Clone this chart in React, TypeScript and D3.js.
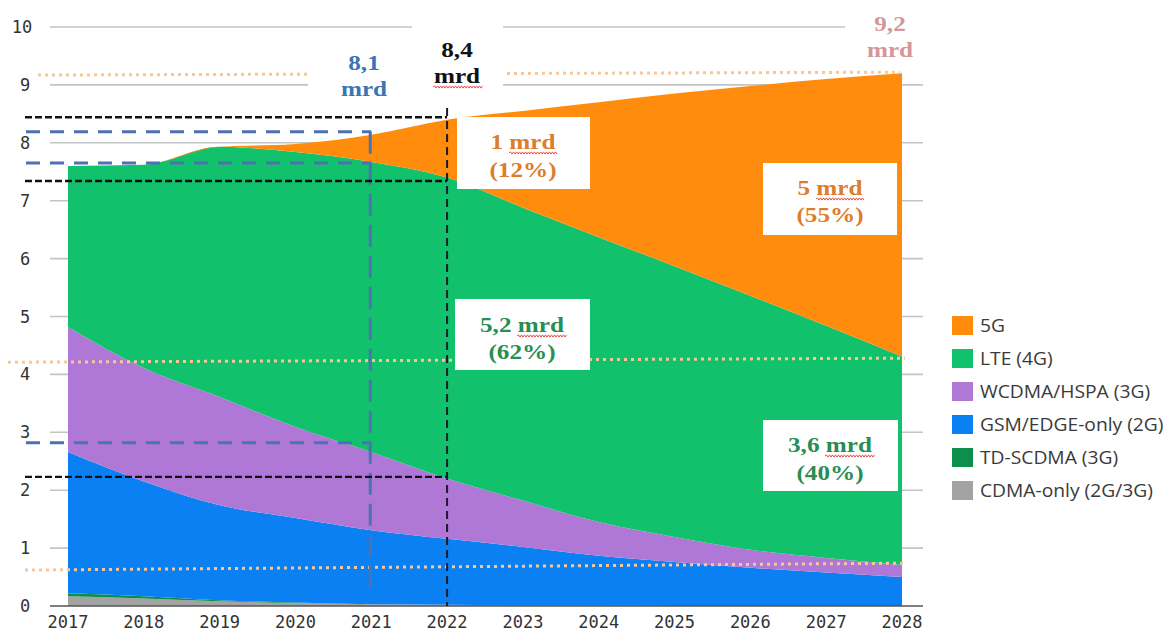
import React from "react";
import * as d3 from "d3";

// Mobile subscriptions by technology (billions), 2017–2028
const years = [2017, 2018, 2019, 2020, 2021, 2022, 2023, 2024, 2025, 2026, 2027, 2028];
const cdmaOnly = [0.17, 0.13, 0.08, 0.05, 0.03, 0.02, 0.01, 0.01, 0, 0, 0, 0];
const tdScdma = [0.05, 0.04, 0.02, 0.01, 0, 0, 0, 0, 0, 0, 0, 0];
const gsmEdge = [2.44, 1.98, 1.64, 1.46, 1.28, 1.14, 1.01, 0.86, 0.76, 0.66, 0.58, 0.5];
const wcdmaHspa = [2.16, 1.96, 1.87, 1.57, 1.35, 1.04, 0.8, 0.58, 0.43, 0.31, 0.25, 0.21];
const lte = [2.78, 3.51, 4.32, 4.75, 5.01, 5.2, 5.06, 4.92, 4.68, 4.39, 4.01, 3.6];
const fiveG = [0, 0, 0, 0.14, 0.47, 1.0, 1.67, 2.33, 2.98, 3.62, 4.26, 4.89];

const seriesKeys = ["cdma", "td", "gsm", "wcdma", "lte", "g5"];
const seriesLabels = ["CDMA-only (2G/3G)", "TD-SCDMA (3G)", "GSM/EDGE-only (2G)", "WCDMA/HSPA (3G)", "LTE (4G)", "5G"];
const seriesColors = ["#a3a3a3", "#0d8f4c", "#0a80f2", "#b078d6", "#12c16c", "#ff8c0c"];

const yTicks = [0, 1, 2, 3, 4, 5, 6, 7, 8, 9, 10];

// Hand-drawn reference lines on top of the chart
const dottedGuides = [
  { from: 9.17, to: 9.22, x0: 38, x1: 900 },
  { from: 4.21, to: 4.28, x0: 8, x1: 905 },
  { from: 0.62, to: 0.74, x0: 25, x1: 905 },
];
const blueGuides = [8.19, 7.65, 2.82];
const blackGuides = [8.44, 7.34, 2.23];

const W = 1173;
const H = 632;

const x = d3.scaleLinear().domain([2017, 2028]).range([68, 902]);
const y = d3.scaleLinear().domain([0, 10]).range([606, 27]);

const table = years.map((yr, i) => ({
  year: yr,
  cdma: cdmaOnly[i],
  td: tdScdma[i],
  gsm: gsmEdge[i],
  wcdma: wcdmaHspa[i],
  lte: lte[i],
  g5: fiveG[i],
}));

const stacked = d3.stack<any>().keys(seriesKeys)(table);

const area = d3
  .area<any>()
  .x((d) => x(d.data.year))
  .y0((d) => y(d[0]))
  .y1((d) => y(d[1]))
  .curve(d3.curveMonotoneX);

function squiggle(x0: number, x1: number, yy: number) {
  let p = `M${x0},${yy}`;
  let up = true;
  for (let xx = x0 + 1.5; xx <= x1; xx += 1.5) {
    p += ` L${xx.toFixed(1)},${(yy + (up ? -1.1 : 1.1)).toFixed(1)}`;
    up = !up;
  }
  return p;
}

const serif = "'Liberation Serif', 'Times New Roman', serif";

function Label({
  cx,
  lines,
  baselines,
  color,
  underline,
}: {
  cx: number;
  lines: string[];
  baselines: number[];
  color: string;
  underline?: { x0: number; x1: number; y: number };
}) {
  return (
    <g>
      {lines.map((t, i) => (
        <text
          key={i}
          transform={`translate(${cx},${baselines[i]}) scale(1.2,1)`}
          textAnchor="middle"
          fontFamily={serif}
          fontWeight="bold"
          fontSize={21}
          fill={color}
        >
          {t}
        </text>
      ))}
      {underline && (
        <path d={squiggle(underline.x0, underline.x1, underline.y)} fill="none" stroke="#e0403a" strokeWidth={0.9} />
      )}
    </g>
  );
}

export default function App() {
  const orange = "#dc7d2c";
  const green = "#2a8d52";
  return (
    <svg width={W} height={H} style={{ position: "absolute", left: 0, top: 0, background: "#fff" }}>
      {/* gridlines */}
      {yTicks.slice(1).map((t) => (
        <line key={t} x1={50} x2={923} y1={y(t)} y2={y(t)} stroke="#c4c4c4" strokeWidth={1.6} />
      ))}
      {/* stacked areas */}
      {stacked.map((s, i) => (
        <path key={s.key} d={area(s) || ""} fill={seriesColors[i]} />
      ))}
      {/* baseline */}
      <line x1={50} x2={923} y1={y(0)} y2={y(0)} stroke="#555" strokeWidth={1.6} />
      {/* y-axis labels */}
      {yTicks.map((t) => (
        <text
          key={t}
          x={t === 10 ? 22 : 25}
          y={y(t) + 6}
          textAnchor="middle"
          fontFamily="'DejaVu Sans Mono', monospace"
          fontSize={17}
          fill="#333"
        >
          {t}
        </text>
      ))}
      {/* x-axis labels */}
      {years.map((yr) => (
        <text
          key={yr}
          x={x(yr)}
          y={628}
          textAnchor="middle"
          fontFamily="'DejaVu Sans Mono', monospace"
          fontSize={17}
          fill="#333"
        >
          {yr}
        </text>
      ))}

      {/* dotted guides */}
      {dottedGuides.map((g, i) => (
        <line
          key={i}
          x1={g.x0}
          x2={g.x1}
          y1={y(g.from)}
          y2={y(g.to)}
          stroke="#f7c796"
          strokeWidth={3}
          strokeDasharray="3 4"
        />
      ))}

      {/* blue dashed guides to 2021 */}
      {blueGuides.map((v, i) => (
        <line key={i} x1={26} x2={x(2021)} y1={y(v)} y2={y(v)} stroke="#4d72b2" strokeWidth={3} strokeDasharray="14 10" />
      ))}
      <line x1={x(2021) - 1} x2={x(2021) - 1} y1={y(8.19)} y2={y(0.2)} stroke="#4d72b2" strokeWidth={3} strokeDasharray="22 9" />

      {/* black dashed guides to 2022 */}
      {blackGuides.map((v, i) => (
        <line key={i} x1={25} x2={x(2022)} y1={y(v)} y2={y(v)} stroke="#111" strokeWidth={2.4} strokeDasharray="7 3" />
      ))}
      <line x1={x(2022)} x2={x(2022)} y1={y(8.6)} y2={y(0)} stroke="#1a1a2a" strokeWidth={2} strokeDasharray="8 5" />

      {/* label backgrounds */}
      <rect x={308} y={44} width={106} height={58} fill="#fff" />
      <rect x={412} y={8} width={91} height={94} fill="#fff" />
      <rect x={845} y={0} width={100} height={64} fill="#fff" />
      <rect x={457} y={117} width={133} height={72} fill="#fff" />
      <rect x={763} y={163} width={134} height={72} fill="#fff" />
      <rect x={455} y={299} width={135} height={71} fill="#fff" />
      <rect x={763} y={420} width={135} height={71} fill="#fff" />

      <Label cx={364} lines={["8,1", "mrd"]} baselines={[70, 96]} color="#3a75b5" />
      <Label
        cx={457}
        lines={["8,4", "mrd"]}
        baselines={[57, 83]}
        color="#111"
        underline={{ x0: 433, x1: 483, y: 87 }}
      />
      <Label cx={890} lines={["9,2", "mrd"]} baselines={[31, 57]} color="#d4969a" />
      <Label
        cx={523}
        lines={["1 mrd", "(12%)"]}
        baselines={[149, 177]}
        color={orange}
        underline={{ x0: 509, x1: 558, y: 153 }}
      />
      <Label
        cx={830}
        lines={["5 mrd", "(55%)"]}
        baselines={[195, 222]}
        color={orange}
        underline={{ x0: 816, x1: 865, y: 199 }}
      />
      <Label
        cx={522}
        lines={["5,2 mrd", "(62%)"]}
        baselines={[332, 359]}
        color={green}
        underline={{ x0: 517, x1: 567, y: 336 }}
      />
      <Label
        cx={830}
        lines={["3,6 mrd", "(40%)"]}
        baselines={[452, 480]}
        color={green}
        underline={{ x0: 825, x1: 875, y: 456 }}
      />

      {/* legend */}
      {seriesKeys
        .map((k, i) => ({ k, i }))
        .reverse()
        .map(({ k, i }, row) => (
          <g key={k} transform={`translate(952,${316 + row * 33})`}>
            <rect width={21} height={19} fill={seriesColors[i]} />
            <text
              transform="translate(28,16) scale(1.1,1)"
              fontFamily="'Open Sans', sans-serif"
              fontSize={17.5}
              fill="#3a3a3a"
            >
              {seriesLabels[i]}
            </text>
          </g>
        ))}
    </svg>
  );
}
